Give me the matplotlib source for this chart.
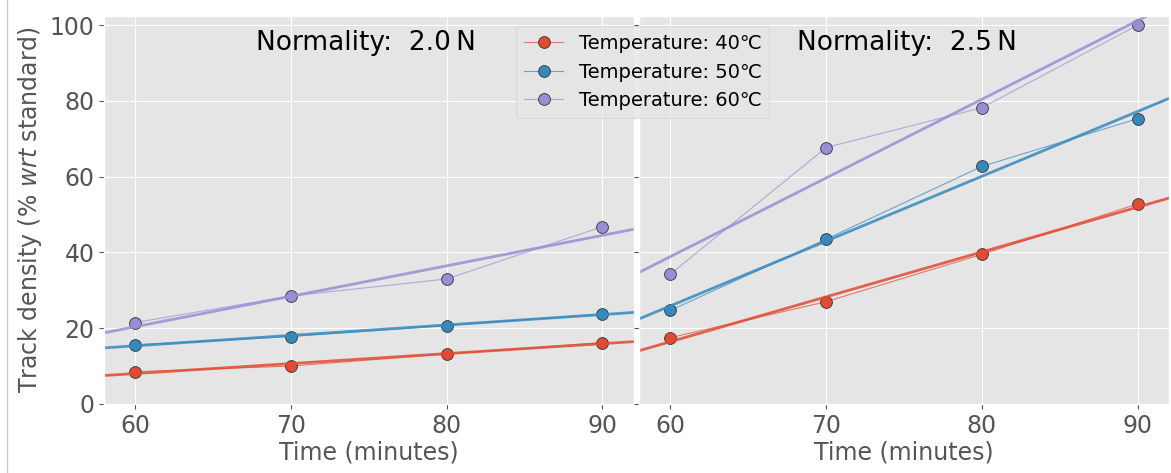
import numpy as np
import matplotlib
matplotlib.use("Agg")
import matplotlib.pyplot as plt
from matplotlib.colors import to_rgba
from matplotlib.lines import Line2D

plt.style.use("ggplot")

time = [60, 70, 80, 90]
temps = ["40", "50", "60"]
colors = ["#E24A33", "#348ABD", "#988ED5"]

# Track density (% wrt standard), one list per temperature
n20 = [[8.5, 10.0, 13.2, 16.2],
       [15.6, 17.8, 20.7, 23.8],
       [21.5, 28.5, 33.0, 46.8]]
n25 = [[17.5, 27.0, 39.5, 52.8],
       [24.7, 43.5, 62.7, 75.3],
       [34.3, 67.7, 78.2, 100.0]]
normalities = ["2.0", "2.5"]

fig, axes = plt.subplots(1, 2, figsize=(11.71, 4.73), dpi=100, sharey=True)
fig.subplots_adjust(left=0.089, right=0.998, top=0.966, bottom=0.146, wspace=0.011)

xlim = (58, 92)
xx = np.linspace(xlim[0], xlim[1], 50)
for ax, data, nrm, tx in zip(axes, [n20, n25], normalities, [0.495, 0.505]):
    for vals, c, t in zip(data, colors, temps):
        ax.plot(time, vals, color=to_rgba(c, 0.7), lw=0.8, marker="o", ms=8.5,
                mfc=c, mec="#333333", mew=0.6, label=f"Temperature: {t}\u2103")
        k, b = np.polyfit(time, vals, 1)
        ax.plot(xx, k * xx + b, color=c, lw=2, alpha=0.85)
    ax.set_xlim(*xlim)
    ax.set_xticks(time)
    ax.set_xlabel("Time (minutes)", fontsize=17, color="#555555", labelpad=2)
    ax.tick_params(labelsize=17)
    ax.text(tx, 0.93, f"Normality:  {nrm}\u2009N", transform=ax.transAxes,
            ha="center", va="center", fontsize=19, color="black")

axes[0].set_ylim(0, 102.4)
axes[0].set_yticks([0, 20, 40, 60, 80, 100])
axes[0].set_ylabel("Track density (% $wrt$ standard)", fontsize=17, color="#555555")

handles, labels = axes[0].get_legend_handles_labels()
fig.legend(handles, labels, loc="upper left", bbox_to_anchor=(0.441, 0.945),
           fontsize=14, handlelength=2.0, borderaxespad=0)

fig.add_artist(Line2D([0.006, 0.006], [0, 1], color="#cccccc", lw=1))

fig.savefig("out.png")
